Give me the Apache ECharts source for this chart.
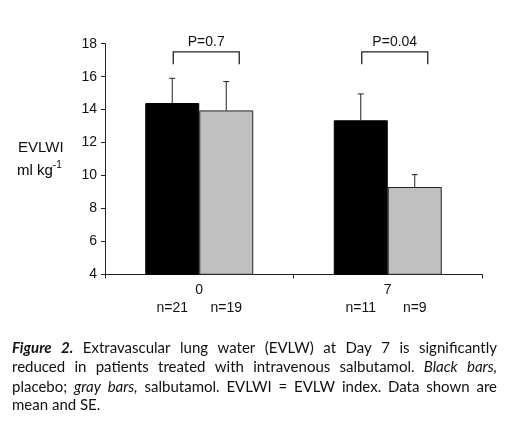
<!DOCTYPE html>
<html><head><meta charset="utf-8">
<script src="https://cdn.jsdelivr.net/npm/echarts@6/dist/echarts.min.js"></script>
<style>html,body{margin:0;padding:0;background:#fff}#c{width:506px;height:425px}</style>
</head><body><div id="c"></div>
<script>
// ---- data ----
const categories = ['0', '7'];
const placeboMean = [14.4, 13.35];
const placeboSE = [1.5, 1.6];
const salbMean = [13.95, 9.3];
const salbSE = [1.75, 0.75];
const placeboN = ['n=21', 'n=11'];
const salbN = ['n=19', 'n=9'];
const pLabels = ['P=0.7', 'P=0.04'];
const bracketTop = [17.5, 17.5];
const bracketLeg = [16.75, 16.75];
const yTicks = { min: 4, max: 18, interval: 2 };

const captionLines = [
  [['Figure', 'bi'], ['2.', 'bi'], ['Extravascular', 'n'], ['lung', 'n'], ['water', 'n'], ['(EVLW)', 'n'], ['at', 'n'], ['Day', 'n'], ['7', 'n'], ['is', 'n'], ['significantly', 'n']],
  [['reduced', 'n'], ['in', 'n'], ['patients', 'n'], ['treated', 'n'], ['with', 'n'], ['intravenous', 'n'], ['salbutamol.', 'n'], ['Black', 'i'], ['bars,', 'i']],
  [['placebo;', 'n'], ['gray', 'i'], ['bars,', 'i'], ['salbutamol.', 'n'], ['EVLWI', 'n'], ['=', 'n'], ['EVLW', 'n'], ['index.', 'n'], ['Data', 'n'], ['shown', 'n'], ['are', 'n']],
  [['mean', 'n'], ['and', 'n'], ['SE.', 'n']]
];

// ---- style constants ----
const BAR_W = 54;
const AX = '#222';
const TXT = '#111';
const FONT = 'Liberation Sans, Arial, sans-serif';
const CAP_FONT = 'Lato';
const CAP_SIZE = 15;

const chart = echarts.init(document.getElementById('c'), null, { renderer: 'canvas' });

function errRender(means, ses, sign) {
  return function (params, api) {
    const i = api.value(0);
    const base = api.coord([i, means[i]]);
    const top = api.coord([i, means[i] + ses[i]]);
    const x = base[0] + sign * BAR_W / 2;
    return {
      type: 'group',
      children: [
        { type: 'line', shape: { x1: x, y1: base[1], x2: x, y2: top[1] }, style: { stroke: AX, lineWidth: 1 } },
        { type: 'line', shape: { x1: x - 3, y1: top[1], x2: x + 3, y2: top[1] }, style: { stroke: AX, lineWidth: 1 } }
      ]
    };
  };
}

const option = {
  animation: false,
  grid: { left: 105, right: 24, top: 43.7, bottom: 150.7 },
  xAxis: {
    type: 'category', data: categories,
    axisLine: { lineStyle: { color: AX, width: 1 } },
    axisTick: { show: true, length: 4, lineStyle: { color: AX } },
    axisLabel: { color: TXT, fontSize: 14, fontFamily: FONT, margin: 9 }
  },
  yAxis: {
    type: 'value', min: yTicks.min, max: yTicks.max, interval: yTicks.interval,
    splitLine: { show: false },
    axisLine: { show: true, lineStyle: { color: AX, width: 1 } },
    axisTick: { show: true, length: 4, lineStyle: { color: AX } },
    axisLabel: { color: TXT, fontSize: 14, fontFamily: FONT, margin: 8 }
  },
  series: [
    { type: 'bar', name: 'Placebo', data: placeboMean, barWidth: BAR_W, barGap: '0%',
      itemStyle: { color: '#000', borderColor: '#000', borderWidth: 1 } },
    { type: 'bar', name: 'Salbutamol', data: salbMean, barWidth: BAR_W, barGap: '0%',
      itemStyle: { color: '#c0c0c0', borderColor: '#222', borderWidth: 1 } },
    { type: 'custom', data: categories.map((c, i) => [i]), renderItem: errRender(placeboMean, placeboSE, -1), z: 3 },
    { type: 'custom', data: categories.map((c, i) => [i]), renderItem: errRender(salbMean, salbSE, 1), z: 3 },
    { type: 'custom', data: categories.map((c, i) => [i]), z: 3,
      renderItem: function (params, api) {
        const i = api.value(0);
        const t = api.coord([i, bracketTop[i]]);
        const l = api.coord([i, bracketLeg[i]]);
        const x1 = t[0] - 26, x2 = t[0] + 40;
        return {
          type: 'group',
          children: [
            { type: 'polyline', shape: { points: [[x1, l[1]], [x1, t[1]], [x2, t[1]], [x2, l[1]]] }, style: { stroke: AX, lineWidth: 1.3, fill: null } },
            { type: 'text', x: (x1 + x2) / 2, y: t[1] - 10, style: { text: pLabels[i], fill: TXT, font: '14px ' + FONT, align: 'center', verticalAlign: 'middle' } }
          ]
        };
      } },
    { type: 'custom', data: categories.map((c, i) => [i]), z: 3,
      renderItem: function (params, api) {
        const i = api.value(0);
        const b = api.coord([i, yTicks.min]);
        return {
          type: 'group',
          children: [
            { type: 'text', x: b[0] - BAR_W / 2, y: b[1] + 34, style: { text: placeboN[i], fill: TXT, font: '14px ' + FONT, align: 'center', verticalAlign: 'middle' } },
            { type: 'text', x: b[0] + BAR_W / 2, y: b[1] + 34, style: { text: salbN[i], fill: TXT, font: '14px ' + FONT, align: 'center', verticalAlign: 'middle' } }
          ]
        };
      } }
  ],
  graphic: []
};

// y axis title
option.graphic.push({
  type: 'text', left: 18, top: 140,
  style: { text: 'EVLWI', fill: TXT, font: '15px ' + FONT }
});
option.graphic.push({
  type: 'text', left: 17, top: 160,
  style: {
    text: '{a|ml kg}{s|-1}',
    rich: {
      a: { fontSize: 15, fontFamily: FONT, color: TXT, verticalAlign: 'bottom' },
      s: { fontSize: 10, fontFamily: FONT, color: TXT, verticalAlign: 'top', padding: [0, 0, 8, 0] }
    }
  }
});

// caption, justified word by word
const cv = document.createElement('canvas').getContext('2d');
function fontOf(st) {
  const pre = st === 'bi' ? 'italic bold ' : st === 'i' ? 'italic ' : '';
  return pre + CAP_SIZE + 'px ' + CAP_FONT;
}
const capLeft = 12, capRight = 497, capY = [348, 367, 387, 405];
captionLines.forEach((line, li) => {
  const widths = line.map(([w, st]) => { cv.font = fontOf(st); return cv.measureText(w).width; });
  const sum = widths.reduce((a, b) => a + b, 0);
  let gap;
  if (li < captionLines.length - 1) gap = (capRight - capLeft - sum) / (line.length - 1);
  else { cv.font = fontOf('n'); gap = cv.measureText(' ').width; }
  let x = capLeft;
  line.forEach(([w, st], k) => {
    option.graphic.push({
      type: 'text', x: x, y: capY[li],
      style: { text: w, font: fontOf(st), fill: TXT, verticalAlign: 'middle', align: 'left' }
    });
    x += widths[k] + gap;
  });
});

chart.setOption(option);
</script></body></html>
